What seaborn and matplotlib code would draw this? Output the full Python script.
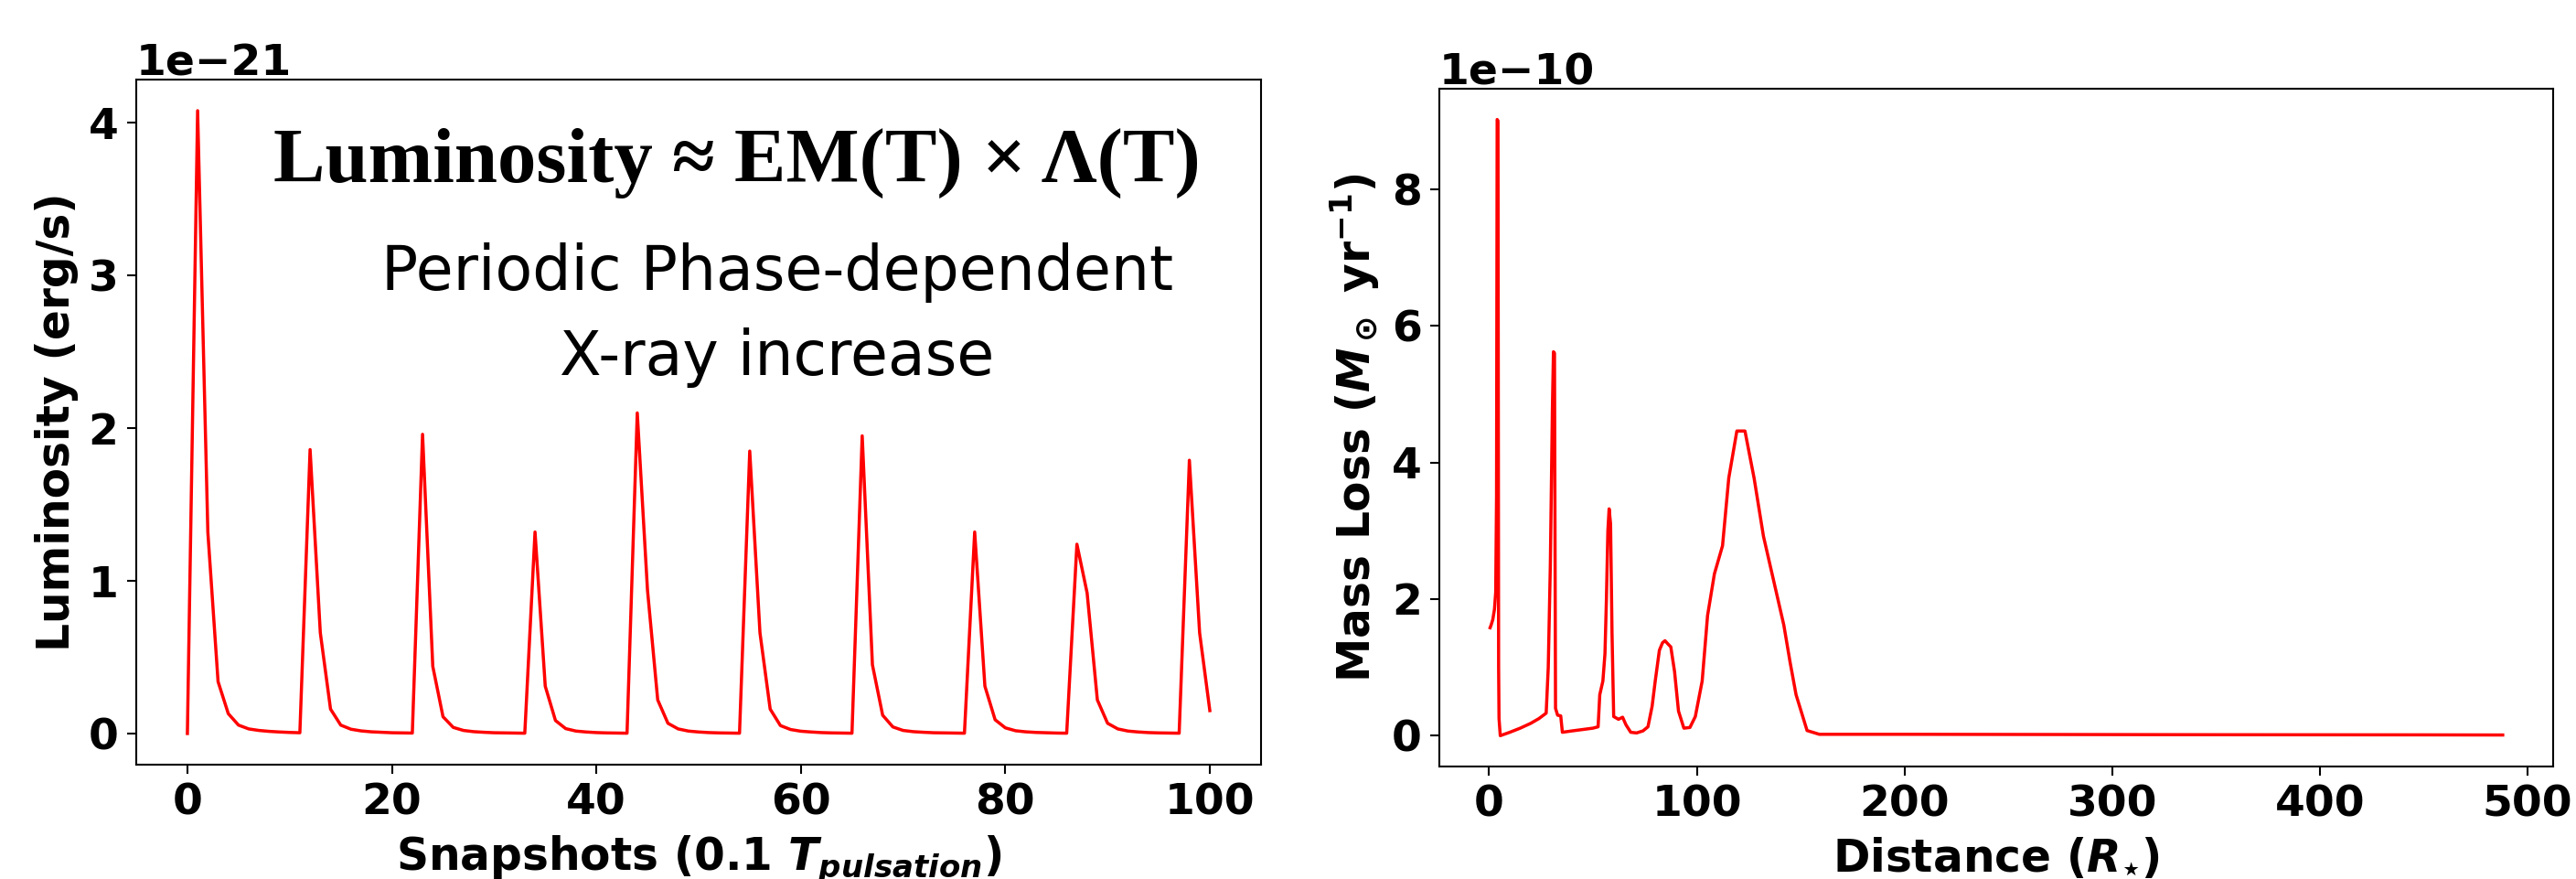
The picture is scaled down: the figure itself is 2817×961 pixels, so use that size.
import numpy as np
import matplotlib
matplotlib.use('Agg')
import matplotlib.pyplot as plt
import seaborn as sns

# Luminosity per snapshot (in units of 1e-21 erg/s)
snapshots = list(range(0, 101))
lum_e21 = [
    0.0, 4.08, 1.32, 0.34, 0.13, 0.055, 0.03, 0.02, 0.014, 0.01, 0.007, 0.005,
    1.86, 0.66, 0.16, 0.055, 0.028, 0.017, 0.011, 0.008, 0.005, 0.004, 0.003,
    1.96, 0.44, 0.11, 0.04, 0.02, 0.012, 0.008, 0.005, 0.004, 0.003, 0.002,
    1.32, 0.31, 0.085, 0.032, 0.016, 0.01, 0.006, 0.004, 0.003, 0.002,
    2.10, 0.94, 0.22, 0.067, 0.03, 0.016, 0.01, 0.006, 0.004, 0.003, 0.002,
    1.85, 0.66, 0.16, 0.052, 0.026, 0.015, 0.01, 0.006, 0.004, 0.003, 0.002,
    1.95, 0.45, 0.12, 0.043, 0.02, 0.012, 0.008, 0.005, 0.004, 0.003, 0.002,
    1.32, 0.31, 0.09, 0.037, 0.018, 0.011, 0.007, 0.005, 0.003, 0.002,
    1.24, 0.92, 0.22, 0.067, 0.03, 0.016, 0.01, 0.006, 0.004, 0.003, 0.002,
    1.79, 0.66, 0.15,
]
luminosity = np.array(lum_e21) * 1e-21

# Mass loss vs distance (in units of 1e-10 Msun/yr)
distance = [
    0.5, 1.0, 1.8, 2.6, 3.2, 3.6, 3.9, 4.3, 4.6, 4.8, 5.4, 10, 15, 20, 24, 27.5,
    28.5, 29.5, 30.5, 31.0, 31.5, 32.0, 33.0, 34.5, 35.3, 40, 45, 50, 52.5,
    53.3, 54.8, 55.8, 56.5, 57.2, 57.8, 58.5, 59.2, 60.0, 62.3, 64.3, 65.9,
    68.2, 71, 74.1, 76.5, 78.5, 80, 82, 83.5, 84.7, 86.5, 87.5, 89.3, 91.2,
    93.8, 96.7, 99.3, 102.6, 105.2, 108.5, 112.4, 115.4, 119.3, 123.2, 127.6,
    132.1, 137, 141.9, 144.9, 147.8, 153.1, 159, 200, 250, 300, 350, 400, 450,
    488,
]
mloss_e10 = [
    1.58, 1.62, 1.70, 1.85, 2.10, 3.5, 9.02, 9.0, 1.0, 0.25, 0.0, 0.05, 0.11,
    0.18, 0.25, 0.33, 1.0, 2.5, 4.8, 5.62, 5.6, 0.4, 0.3, 0.29, 0.05, 0.07,
    0.09, 0.11, 0.13, 0.6, 0.8, 1.2, 2.0, 3.0, 3.32, 3.1, 1.5, 0.28, 0.24,
    0.27, 0.16, 0.05, 0.04, 0.07, 0.13, 0.43, 0.8, 1.25, 1.36, 1.39, 1.33,
    1.30, 0.94, 0.36, 0.11, 0.12, 0.28, 0.8, 1.76, 2.37, 2.78, 3.77, 4.46,
    4.46, 3.77, 2.92, 2.27, 1.62, 1.08, 0.6, 0.075, 0.02, 0.02, 0.018, 0.016,
    0.014, 0.013, 0.012, 0.01,
]
massloss = np.array(mloss_e10) * 1e-10

plt.rcParams['font.weight'] = 'bold'
plt.rcParams['axes.labelweight'] = 'bold'
plt.rcParams['xtick.labelsize'] = 34
plt.rcParams['ytick.labelsize'] = 34
plt.rcParams['axes.labelsize'] = 35
plt.rcParams['axes.labelpad'] = 8
plt.rcParams['axes.linewidth'] = 1.5
plt.rcParams['xtick.major.size'] = 7
plt.rcParams['ytick.major.size'] = 7
plt.rcParams['xtick.major.width'] = 1.5
plt.rcParams['ytick.major.width'] = 1.5
plt.rcParams['xtick.major.pad'] = 7
plt.rcParams['ytick.major.pad'] = 7

fig = plt.figure(figsize=(28.17, 9.61), dpi=100)
ax1 = fig.add_axes([0.0529, 0.1301, 0.4366, 0.7794])
ax2 = fig.add_axes([0.5588, 0.1280, 0.4324, 0.7711])

# Left: luminosity
sns.lineplot(x=snapshots, y=luminosity, ax=ax1, color='red', linewidth=2.5)
ax1.set_xlabel('Snapshots (0.1 $T_{pulsation}$)')
ax1.set_ylabel('Luminosity (erg/s)')
ax1.text(0.534, 0.851, 'Luminosity \u2248 EM(T) \u00d7 \u039b(T)', transform=ax1.transAxes,
         ha='center', va='baseline', fontsize=61, fontweight='bold',
         family=['Liberation Serif', 'DejaVu Serif'])
ax1.text(0.570, 0.693, 'Periodic Phase-dependent', transform=ax1.transAxes,
         ha='center', va='baseline', fontsize=48, fontweight='normal',
         family=['DejaVu Sans'])
ax1.text(0.570, 0.569, 'X-ray increase', transform=ax1.transAxes,
         ha='center', va='baseline', fontsize=48, fontweight='normal',
         family=['DejaVu Sans'])

# Right: mass loss
sns.lineplot(x=distance, y=massloss, ax=ax2, color='red', linewidth=2.5,
             estimator=None)
ax2.set_xlabel(r'Distance ($R_{\star}$)')
ax2.set_ylabel(r'Mass Loss ($M_\odot$ yr$^{-1}$)')

for ax in (ax1, ax2):
    for s in ax.spines.values():
        s.set_color('black')

fig.savefig('out.png', dpi=100)
